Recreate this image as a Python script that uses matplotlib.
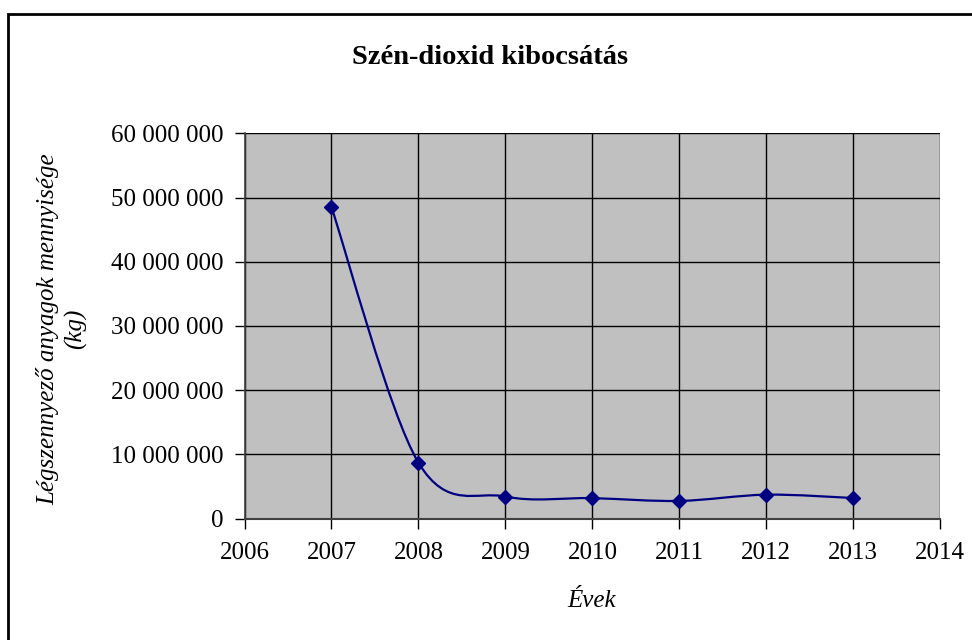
import matplotlib
matplotlib.use("Agg")
import matplotlib.pyplot as plt
from matplotlib.path import Path
from matplotlib.patches import PathPatch, Rectangle
from matplotlib.ticker import FuncFormatter

years = [2007, 2008, 2009, 2010, 2011, 2012, 2013]
emissions = [48480000, 8720000, 3450000, 3200000, 2770000, 3740000, 3220000]
x_ticks = [2006, 2007, 2008, 2009, 2010, 2011, 2012, 2013, 2014]
y_ticks = [0, 10000000, 20000000, 30000000, 40000000, 50000000, 60000000]

title = "Szén-dioxid kibocsátás"
ylabel = "Légszennyező anyagok mennyisége\n(kg)"
xlabel = "Évek"

plt.rcParams['font.family'] = ['Liberation Serif', 'DejaVu Serif']

fig = plt.figure(figsize=(9.72, 6.4), dpi=100)
ax = fig.add_axes([244.5 / 972, 1 - 518.7 / 640, (940.3 - 244.5) / 972, (518.7 - 133.3) / 640])
ax.set_facecolor('#C0C0C0')
ax.set_xlim(2006, 2014)
ax.set_ylim(0, 60000000)

# Smoothed line (Catmull-Rom style Bezier through the data points, like Excel's smoothing)
pts = list(zip(years, emissions))
n = len(pts)
verts = [pts[0]]
codes = [Path.MOVETO]
for i in range(n - 1):
    p0 = pts[i - 1] if i > 0 else pts[i]
    p1 = pts[i]
    p2 = pts[i + 1]
    p3 = pts[i + 2] if i + 2 < n else pts[i + 1]
    c1 = (p1[0] + (p2[0] - p0[0]) / 6, p1[1] + (p2[1] - p0[1]) / 6)
    c2 = (p2[0] - (p3[0] - p1[0]) / 6, p2[1] - (p3[1] - p1[1]) / 6)
    verts += [c1, c2, p2]
    codes += [Path.CURVE4] * 3
ax.add_patch(PathPatch(Path(verts, codes), facecolor='none', edgecolor='#000080', lw=1.6, zorder=3))
ax.plot(years, emissions, linestyle='none', marker='D', markersize=7, color='#000080', zorder=4)

ax.set_xticks(x_ticks)
ax.set_yticks(y_ticks)
ax.yaxis.set_major_formatter(FuncFormatter(lambda v, p: f"{int(v):,}".replace(",", " ")))
ax.grid(True, color='black', lw=1.0)
ax.set_axisbelow(True)
for sp in ['top', 'right']:
    ax.spines[sp].set_visible(False)
ax.spines['left'].set_color('#404040')
ax.spines['bottom'].set_color('#404040')
ax.spines['left'].set_linewidth(1.2)
ax.spines['bottom'].set_linewidth(1.5)
ax.tick_params(axis='both', direction='out', length=7, width=1, labelsize=18, colors='black')
ax.tick_params(axis='x', pad=10)
ax.tick_params(axis='y', pad=8)

fig.text(490 / 972, 1 - 57 / 640, title, ha='center', va='center', fontsize=20.5, fontweight='bold')
fig.text(62 / 972, 1 - 329 / 640, ylabel, ha='center', va='center', rotation=90,
         fontsize=18, style='italic', linespacing=1.25)
fig.text(592 / 972, 1 - 601 / 640, xlabel, ha='center', va='center', fontsize=18, style='italic')

fig.patches.append(Rectangle((7.5 / 972, -0.05), 1.1, 1 - 13.5 / 640 + 0.05, transform=fig.transFigure,
                             fill=False, edgecolor='black', lw=2, figure=fig))

fig.savefig('out.png', dpi=100)
